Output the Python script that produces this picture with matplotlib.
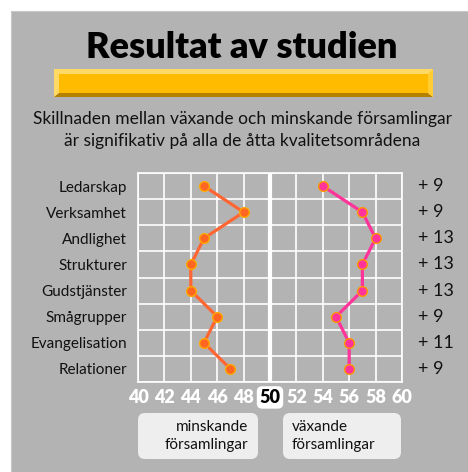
import matplotlib.pyplot as plt
from matplotlib.patches import Rectangle, Polygon, FancyBboxPatch

# ---------------------------------------------------- DATA ----------------------------------------------------

categories = ["Ledarskap", "Verksamhet", "Andlighet", "Strukturer",
              "Gudstjänster", "Smågrupper", "Evangelisation", "Relationer"]
minskande = [45, 48, 45, 44, 44, 46, 45, 47]
vaxande = [54, 57, 58, 57, 57, 55, 56, 56]
diff_labels = ["+ 9", "+ 9", "+ 13", "+ 13", "+ 13", "+ 9", "+ 11", "+ 9"]
xticks = [40, 42, 44, 46, 48, 50, 52, 54, 56, 58, 60]

W, H = 468, 472
GREY = "#b3b3b3"
FONT = ["Lato", "DejaVu Sans"]

plt.rcParams["font.family"] = FONT


def fx(x):
    return x / W


def fy(y):
    return 1 - y / H


fig = plt.figure(figsize=(W / 100, H / 100), dpi=100)
fig.patch.set_facecolor("white")

# grey slide background
fig.patches.append(Rectangle((fx(11), 0), 1, fy(11), transform=fig.transFigure,
                             facecolor=GREY, edgecolor="#c8c8c8", lw=0.8, zorder=-5))

# ------------------------------------------------ TITLE + BAR ------------------------------------------------

fig.text(fx(242), fy(47), "Resultat av studien", ha="center", va="center",
         fontsize=26, fontweight="heavy", color="black")

bx0, bx1, by0, by1 = 54, 433, 69, 97
fig.patches.append(Rectangle((fx(bx0), fy(by1)), fx(bx1 - bx0), (by1 - by0) / H,
                             transform=fig.transFigure, facecolor="#ffd966", lw=0))
fig.patches.append(Polygon([(fx(bx0), fy(by1)), (fx(bx1), fy(by1)), (fx(bx1 - 5), fy(by1 - 4)),
                            (fx(bx0 + 5), fy(by1 - 4))], closed=True,
                           transform=fig.transFigure, facecolor="#b38000", lw=0))
fig.patches.append(Polygon([(fx(bx1), fy(by1)), (fx(bx1), fy(by0)), (fx(bx1 - 5), fy(by0 + 5)),
                            (fx(bx1 - 5), fy(by1 - 4))], closed=True,
                           transform=fig.transFigure, facecolor="#ffcc33", lw=0))
fig.patches.append(Rectangle((fx(bx0 + 5), fy(by1 - 4)), fx(bx1 - bx0 - 10), (by1 - by0 - 9) / H,
                             transform=fig.transFigure, facecolor="#ffbb00", lw=0))

fig.text(fx(242), fy(130), "Skillnaden mellan växande och minskande församlingar\n"
         "är signifikativ på alla de åtta kvalitetsområdena",
         ha="center", va="center", fontsize=12.5, color="#111111", linespacing=1.5)

# ----------------------------------------------------- CHART -----------------------------------------------------

ax = fig.add_axes([fx(138), fy(382), fx(402 - 138), (382 - 173) / H])
ax.set_zorder(5)
ax.set_facecolor(GREY)
ypos = [i + 0.5 for i in range(len(categories))]

ax.plot(minskande, ypos, color="#ff6633", lw=2.3, marker="o", ms=7,
        mfc="#ff6622", mec="#ffaa00", mew=1, zorder=3, clip_on=False)
ax.plot(vaxande, ypos, color="#ff3399", lw=2.3, marker="o", ms=7,
        mfc="#ff3399", mec="#ff9900", mew=1, zorder=3, clip_on=False)

ax.set_xlim(40, 60)
ax.set_ylim(len(categories), 0)
for x in range(40, 61, 2):
    ax.axvline(x, color="white", lw=3 if x == 50 else 1.2, zorder=1)
for y in range(len(categories) + 1):
    ax.axhline(y, color="white", lw=1.2, zorder=1)
for s in ax.spines.values():
    s.set_color("white")
    s.set_linewidth(1.2)

ax.set_xticks(xticks)
ax.set_xticklabels([str(t) for t in xticks], fontsize=13, fontweight="heavy", color="white")
ax.tick_params(axis="x", length=0, pad=5)
ax.get_xticklabels()[5].set_color("black")
ax.get_xticklabels()[5].set_bbox(dict(boxstyle="round,pad=0.15,rounding_size=0.3",
                                      facecolor="white", edgecolor="none"))

ax.set_yticks(ypos)
ax.set_yticklabels(categories, fontsize=11, color="#111111")
ax.tick_params(axis="y", length=0, pad=8)

for y, lab in zip(ypos, diff_labels):
    ax.text(1.06, y, lab, transform=ax.get_yaxis_transform(), ha="left", va="center",
            fontsize=13, color="#111111")

# ----------------------------------------------------- LEGEND -----------------------------------------------------

for (x0, x1), txt, ha, tx in [((138, 258), "minskande\nförsamlingar", "right", 248),
                              ((283, 401), "växande\nförsamlingar", "left", 292)]:
    fig.patches.append(FancyBboxPatch((fx(x0), fy(459)), fx(x1 - x0), (459 - 413) / H,
                                      boxstyle="round,pad=0,rounding_size=0.015",
                                      transform=fig.transFigure, facecolor="#eeeeee",
                                      edgecolor="none"))
    fig.text(fx(tx), fy(436), txt, ha=ha, va="center", fontsize=11, color="#111111",
             multialignment=ha, linespacing=1.35)

fig.savefig("out.png", dpi=100, facecolor=fig.get_facecolor())
